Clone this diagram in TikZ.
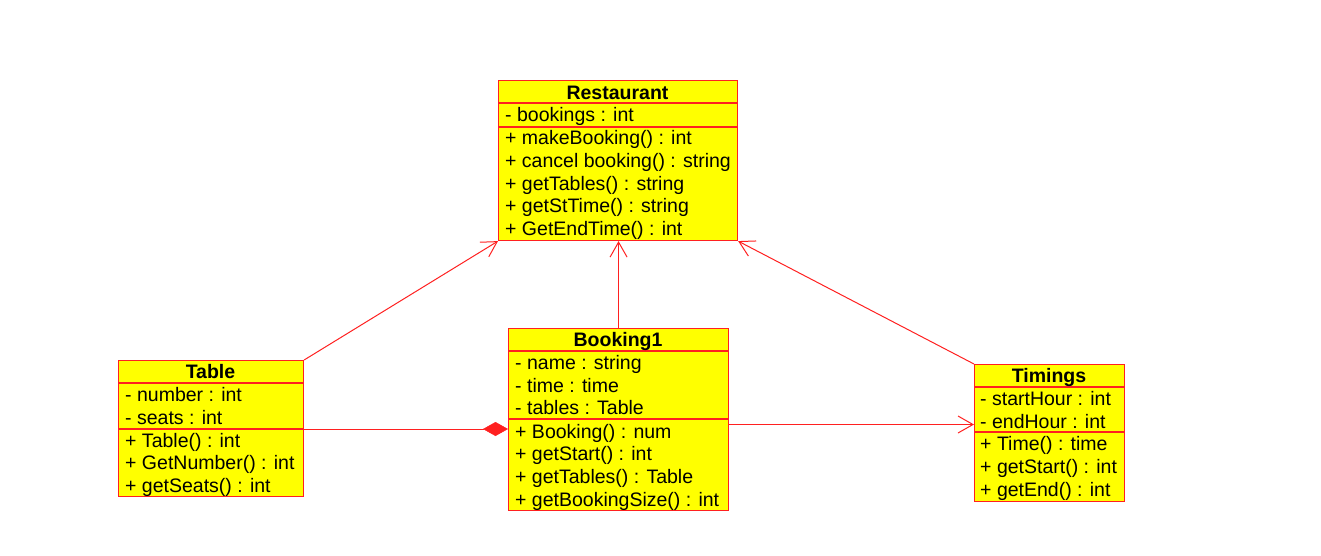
\documentclass[tikz,border=0pt]{standalone}
\usepackage{fontspec}
\setmainfont{Liberation Sans}
\usetikzlibrary{arrows.meta}
\definecolor{umlred}{HTML}{FF2020}
\definecolor{umlyellow}{HTML}{FFFF00}
\tikzset{
  classbox/.style={draw=umlred, fill=umlyellow, line width=1.1pt, inner sep=0pt, anchor=north west},
  sepline/.style={draw=umlred, line width=1.1pt},
  titletext/.style={font=\fontsize{19.5}{23}\selectfont\bfseries, inner sep=0pt, anchor=base},
  membertext/.style={font=\fontsize{19.5}{23}\selectfont, inner sep=0pt, anchor=base west},
  assoc/.style={draw=umlred, line width=1pt},
  openarrow/.style={assoc, -{Straight Barb[length=15pt, width=17pt, line width=1pt]}},
  composition/.style={assoc, -{Diamond[length=25pt, width=14pt, fill=umlred, line width=0.5pt]}}
}
\begin{document}
\begin{tikzpicture}[x=1pt, y=-1pt]
\useasboundingbox (0,0) rectangle (1321,555);

% ---------- Restaurant ----------
\node[classbox, minimum width=239pt, minimum height=160pt] (rest) at (498,80) {};
\draw[sepline] (498,103) -- (737,103);
\draw[sepline] (498,127) -- (737,127);
\node[titletext] (rest-t) at (617.5,99) {Restaurant};
\foreach \t [count=\i from 0] in {{- bookings : int}}
  \node[membertext] (rest-a\i) at (505,{103+18.5+22.6*\i}) {\t};
\foreach \t [count=\i from 0] in {{+ makeBooking() : int},{+ cancel booking() : string},{+ getTables() : string},{+ getStTime() : string},{+ GetEndTime() : int}}
  \node[membertext] (rest-m\i) at (505,{127+17.8+22.6*\i}) {\t};

% ---------- Table ----------
\node[classbox, minimum width=185pt, minimum height=136pt] (table) at (118,360) {};
\draw[sepline] (118,383) -- (303,383);
\draw[sepline] (118,429) -- (303,429);
\coordinate (table-sep) at (118,429);
\node[titletext] (table-t) at (210.5,378.5) {Table};
\foreach \t [count=\i from 0] in {{- number : int},{- seats : int}}
  \node[membertext] (table-a\i) at (125,{383+18.5+22.6*\i}) {\t};
\foreach \t [count=\i from 0] in {{+ Table() : int},{+ GetNumber() : int},{+ getSeats() : int}}
  \node[membertext] (table-m\i) at (125,{429+18.3+22.4*\i}) {\t};

% ---------- Booking1 ----------
\node[classbox, minimum width=220pt, minimum height=182pt] (book) at (508,328) {};
\draw[sepline] (508,351) -- (728,351);
\draw[sepline] (508,419) -- (728,419);
\node[titletext] (book-t) at (618,346.5) {Booking1};
\foreach \t [count=\i from 0] in {{- name : string},{- time : time},{- tables : Table}}
  \node[membertext] (book-a\i) at (515,{351+18.5+22.7*\i}) {\t};
\foreach \t [count=\i from 0] in {{+ Booking() : num},{+ getStart() : int},{+ getTables() : Table},{+ getBookingSize() : int}}
  \node[membertext] (book-m\i) at (515,{419+19+22.75*\i}) {\t};

% ---------- Timings ----------
\node[classbox, minimum width=150pt, minimum height=137pt] (tim) at (974,364) {};
\draw[sepline] (974,387) -- (1124,387);
\draw[sepline] (974,432) -- (1124,432);
\node[titletext] (tim-t) at (1049,382.5) {Timings};
\foreach \t [count=\i from 0] in {{- startHour : int},{- endHour : int}}
  \node[membertext] (tim-a\i) at (980,{387+18.5+22.5*\i}) {\t};
\foreach \t [count=\i from 0] in {{+ Time() : time},{+ getStart() : int},{+ getEnd() : int}}
  \node[membertext] (tim-m\i) at (980,{432+18.8+23*\i}) {\t};

% ---------- connectors ----------
\coordinate (bt-y) at (0,424.5);
\draw[openarrow] (table.north east) -- (rest.south west);
\draw[openarrow] (book.north) -- (book.north |- rest.south);
\draw[openarrow] (tim.north west) -- (rest.south east);
\draw[composition] (table.east |- table-sep) -- (book.west |- table-sep);
\draw[openarrow] (book.east |- bt-y) -- (tim.west |- bt-y);
\end{tikzpicture}
\end{document}
